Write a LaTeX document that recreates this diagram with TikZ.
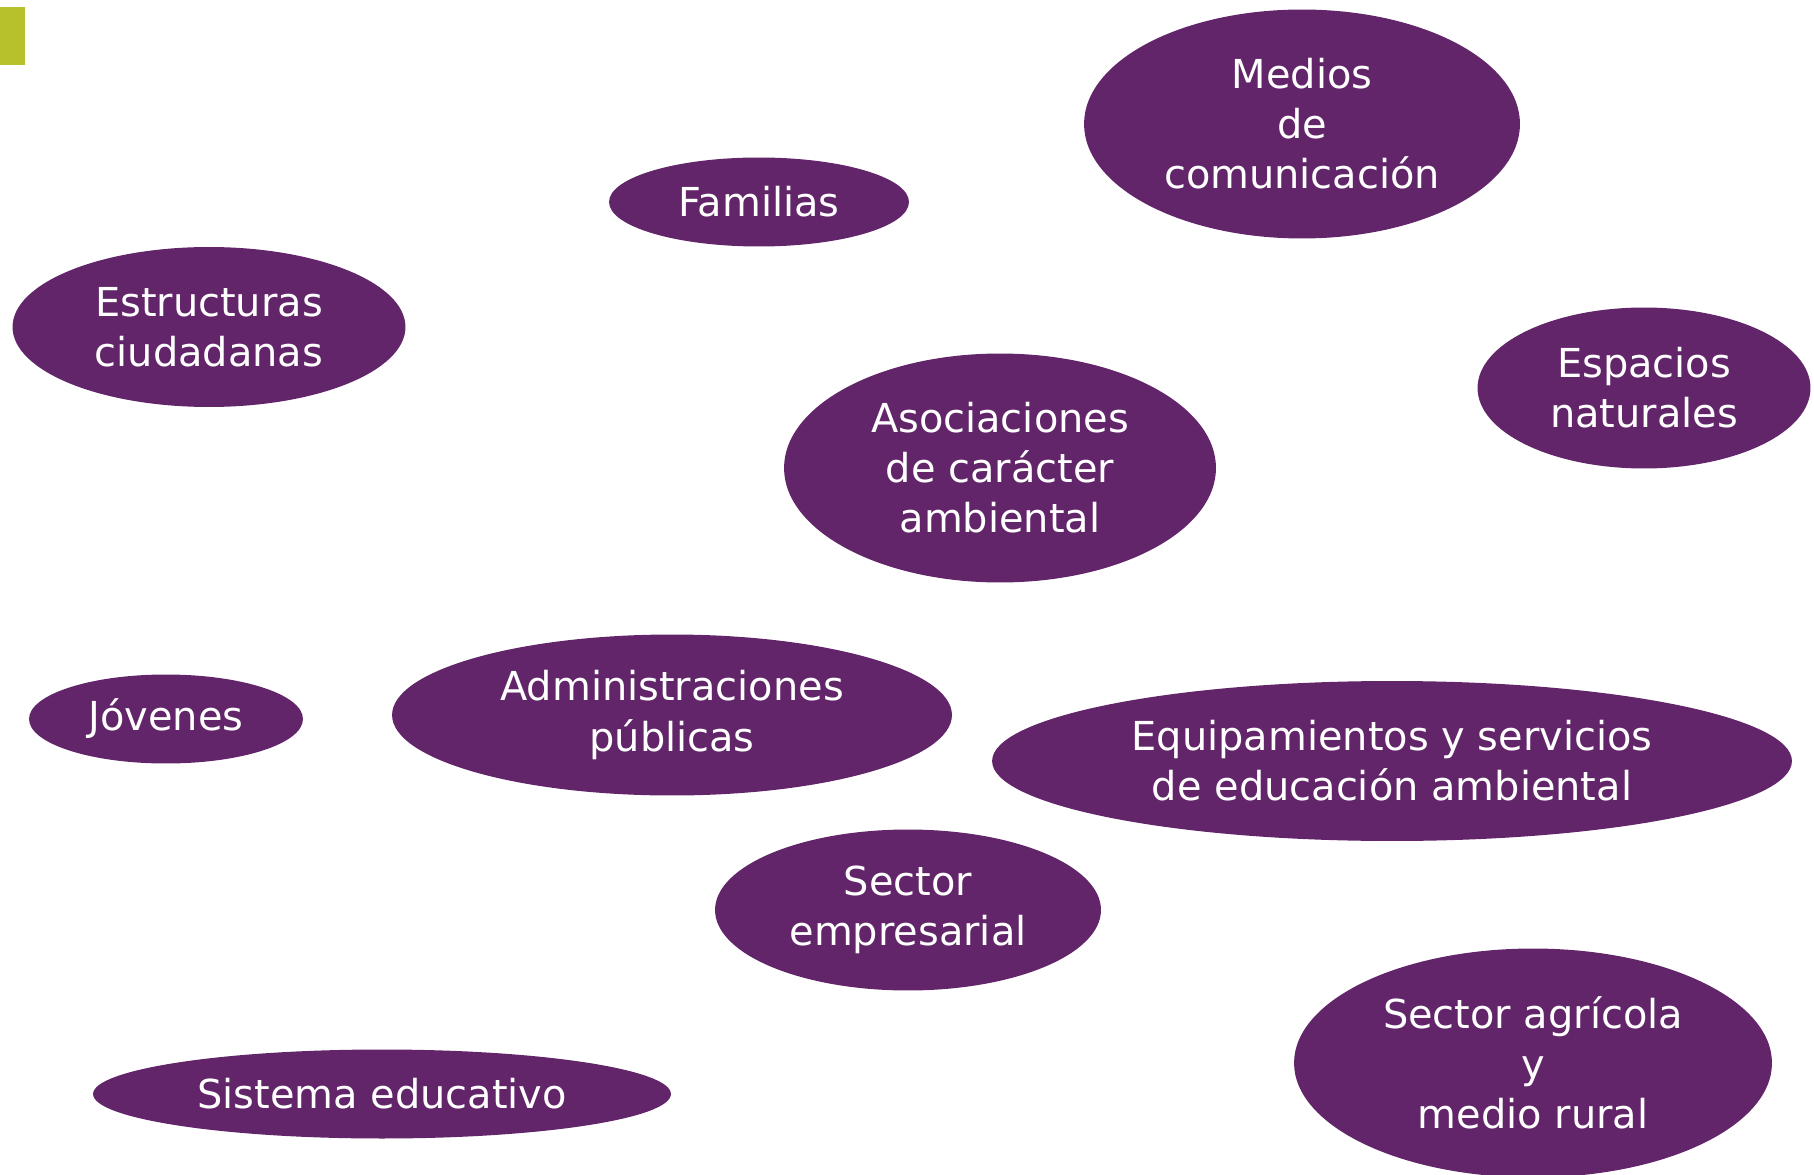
\documentclass[tikz,border=0pt]{standalone}
\usepackage{fontspec}
\setmainfont{DejaVu Sans}
\usetikzlibrary{shapes}

\definecolor{morado}{HTML}{62256A}
\definecolor{oliva}{HTML}{B6C12B}

\begin{document}
\begin{tikzpicture}[x=0.02cm,y=-0.02cm]
\tikzset{
  actor/.style = {ellipse, fill=morado, inner sep=0pt, align=center,
                  text=white, font=\fontsize{22.7}{28.5}\selectfont}
}
\useasboundingbox (0,0) rectangle (1814,1175);
\clip (0,0) rectangle (1814,1175);
\fill[oliva] (0,7) rectangle (25,65);

% three-line ellipses
\node[actor, minimum width=8.72cm, minimum height=4.58cm] (medios) at (1302,124)
  {Medios\\de\\comunicación};
\node[actor, minimum width=8.64cm, minimum height=4.58cm] (asoc) at (1000,468)
  {Asociaciones\\de carácter\\ambiental};
\node[actor, minimum width=9.56cm, minimum height=4.58cm] (agricola) at (1533,1063)
  {Sector agrícola\\y\\medio rural};

% two-line ellipses
\node[actor, minimum width=7.86cm, minimum height=3.2cm] (estruct) at (209,327)
  {Estructuras\\ciudadanas};
\node[actor, minimum width=6.66cm, minimum height=3.22cm] (espacios) at (1644,388)
  {Espacios\\naturales};
\node[actor, minimum width=11.2cm, minimum height=3.22cm] (admin) at (672,715)
  {Administraciones\\públicas};
\node[actor, minimum width=16cm, minimum height=3.2cm] (equip) at (1392,761)
  {Equipamientos y servicios\\de educación ambiental};
\node[actor, minimum width=7.72cm, minimum height=3.22cm] (empresa) at (908,910)
  {Sector\\empresarial};

% one-line ellipses
\node[actor, minimum width=6cm, minimum height=1.78cm] (familias) at (759,202)
  {Familias};
\node[actor, minimum width=5.48cm, minimum height=1.78cm] (jovenes) at (166,719)
  {Jóvenes};
\node[actor, minimum width=11.56cm, minimum height=1.78cm] (sistema) at (382,1094)
  {Sistema educativo};
\end{tikzpicture}
\end{document}
